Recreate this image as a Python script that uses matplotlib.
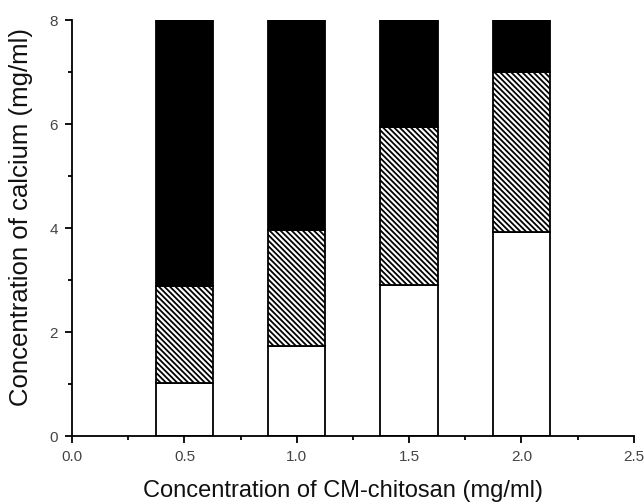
import numpy as np
import matplotlib.pyplot as plt
from matplotlib.ticker import MultipleLocator

plt.rcParams['font.family'] = ['Liberation Sans', 'DejaVu Sans']
plt.rcParams['hatch.linewidth'] = 1.3

# CM-chitosan concentration (mg/ml)
conc = [0.5, 1.0, 1.5, 2.0]
# stacked segments (mg/ml calcium)
white_part = [1.03, 1.74, 2.91, 3.93]
hatch_part = [1.85, 2.22, 3.04, 3.08]
black_part = [5.12, 4.04, 2.05, 0.99]

fig = plt.figure(figsize=(6.44, 5.03), dpi=100)
ax = fig.add_axes([0.112, 0.133, 0.872, 0.827])

w = 0.255
hatch_bottom = np.array(white_part)
black_bottom = hatch_bottom + np.array(hatch_part)
ax.bar(conc, white_part, w, color='white', edgecolor='black', linewidth=1.3)
ax.bar(conc, hatch_part, w, bottom=hatch_bottom, color='white', edgecolor='black',
       hatch='\\\\\\\\\\\\', linewidth=1.3)
ax.bar(conc, black_part, w, bottom=black_bottom, color='black', edgecolor='black', linewidth=1.3)

ax.set_xlim(0, 2.5)
ax.set_ylim(0, 8)
ax.xaxis.set_minor_locator(MultipleLocator(0.25))
ax.yaxis.set_minor_locator(MultipleLocator(1))
ax.set_xticks([0, 0.5, 1.0, 1.5, 2.0, 2.5])
ax.set_xticklabels(['0.0', '0.5', '1.0', '1.5', '2.0', '2.5'])
ax.set_yticks([0, 2, 4, 6, 8])
ax.set_yticklabels(['0', '2', '4', '6', '8'])

for s in ['top', 'right']:
    ax.spines[s].set_visible(False)
for s in ['left', 'bottom']:
    ax.spines[s].set_linewidth(1.3)
ax.tick_params(which='major', direction='out', length=5, width=1.3, labelsize=11,
               labelcolor='#444444', pad=5)
ax.tick_params(which='minor', direction='out', length=3, width=1.3)

ax.set_xlabel('Concentration of CM-chitosan (mg/ml)', fontsize=17, color='#111111')
ax.set_ylabel('Concentration of calcium (mg/ml)', fontsize=18.5, color='#111111')
ax.xaxis.set_label_coords(0.482, -0.105)
ax.yaxis.set_label_coords(-0.07, 0.526)

fig.savefig('out.png', dpi=100)
